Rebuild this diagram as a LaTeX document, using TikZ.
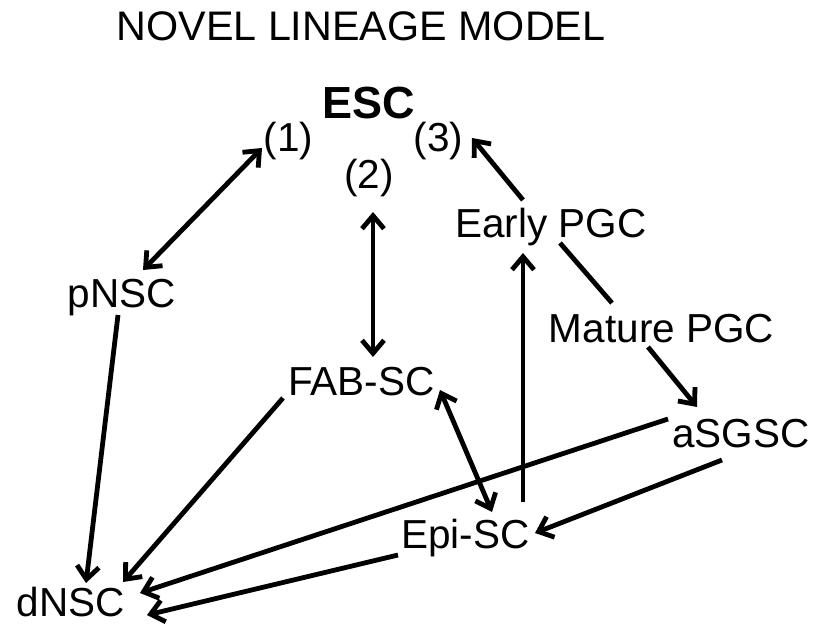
\documentclass[tikz,border=0pt]{standalone}
\usepackage{fontspec}
\setmainfont{Liberation Sans}
\usetikzlibrary{arrows.meta,calc}
\tikzset{
  lbl/.style={inner sep=0pt, anchor=base, font=\fontsize{40.5}{48}\selectfont},
  conn/.style={line width=4.8pt},
  tipend/.style={},
  arr/.style={conn, -{Straight Barb[length=13pt,width=22pt]}},
  darr/.style={conn, {Straight Barb[length=13pt,width=22pt]}-{Straight Barb[length=13pt,width=22pt]}},
}
\begin{document}
\begin{tikzpicture}[x=1pt,y=-1pt]
\useasboundingbox[fill=white] (0,0) rectangle (816,628);
\node[lbl, font=\fontsize{41.3}{48}\selectfont] (title) at (361,41) {NOVEL LINEAGE MODEL};
\node[lbl, font=\fontsize{45}{48}\selectfont\bfseries] (ESC) at (369,119) {ESC};
\node[lbl] (n1) at (288.5,152) {(1)};
\node[lbl] (n2) at (369,189) {(2)};
\node[lbl] (n3) at (438.5,152) {(3)};
\node[lbl] (early) at (551,238) {Early PGC};
\node[lbl] (pNSC) at (121.5,307) {pNSC};
\node[lbl] (mature) at (661.5,342) {Mature PGC};
\node[lbl] (FAB) at (361.5,395) {FAB-SC};
\node[lbl] (aSGSC) at (741,447) {aSGSC};
\node[lbl] (Epi) at (465.5,548) {Epi-SC};
\node[lbl] (dNSC) at (71,616) {dNSC};

\draw[darr] ($(n1.base)+(-26.5,-4)$) -- ($(pNSC.base)+(21.5,-37)$);
\draw[darr] ($(n2.base)+(4,23)$) -- ($(FAB.base)+(11.5,-38)$);
\draw[arr] ($(early.base)+(-28,-38)$) -- ($(n3.base)+(33.5,-14)$);
\draw[conn] ($(early.base)+(9,5)$) -- ($(mature.base)+(-49.5,-39)$);
\draw[arr] ($(mature.base)+(-13.5,5)$) -- ($(aSGSC.base)+(-44,-40)$);
\draw[arr] ($(pNSC.base)+(-3.5,8)$) -- ($(dNSC.base)+(15,-33)$);
\draw[arr] ($(FAB.base)+(-78.5,3)$) -- ($(dNSC.base)+(52,-34)$);
\draw[darr] ($(FAB.base)+(78.5,-5)$) -- ($(Epi.base)+(26.5,-36)$);
\draw[arr] ($(Epi.base)+(57.5,-46)$) -- ($(early.base)+(-28,15)$);
\draw[arr] ($(aSGSC.base)+(-73,-28)$) -- ($(dNSC.base)+(69,-23)$);
\draw[arr] ($(aSGSC.base)+(-19,13)$) -- ($(Epi.base)+(69.5,-15)$);
\draw[arr] ($(Epi.base)+(-67.5,7)$) -- ($(dNSC.base)+(76,-1)$);
\end{tikzpicture}
\end{document}
